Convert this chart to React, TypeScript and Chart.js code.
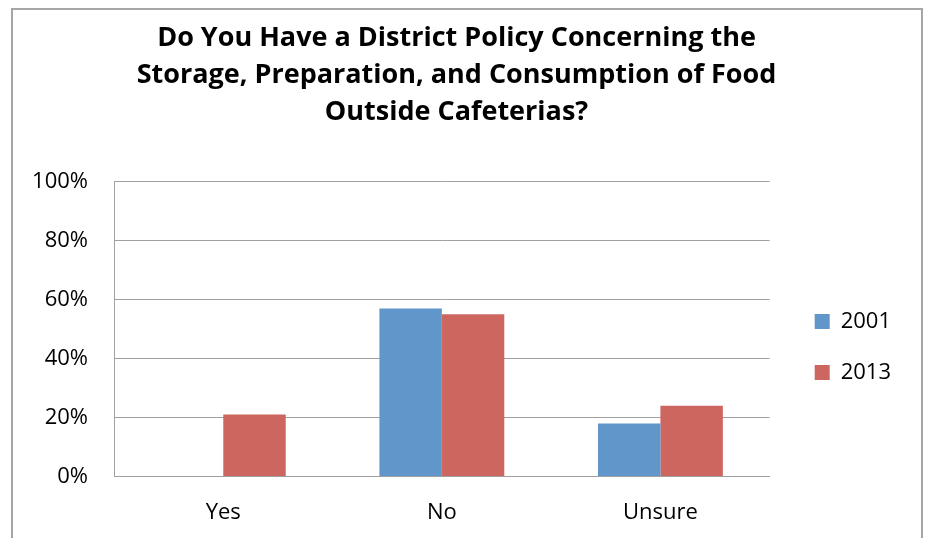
import React, { useEffect, useRef } from "react";
import { Chart, registerables } from "chart.js";

Chart.register(...registerables);

const categories = ["Yes", "No", "Unsure"];
const series2001 = [0, 57, 18];
const series2013 = [21, 55, 24];
const seriesLabels = ["2001", "2013"];
const titleLines = [
  "Do You Have a District Policy Concerning the",
  "Storage, Preparation, and Consumption of Food",
  "Outside Cafeterias?",
];
const yTickValues = [0, 20, 40, 60, 80, 100];

const FONT = "'Open Sans', Lato, sans-serif";

export default function App() {
  const canvasRef = useRef<HTMLCanvasElement | null>(null);

  useEffect(() => {
    const canvas = canvasRef.current;
    if (!canvas) return;
    const chart = new Chart(canvas, {
      type: "bar",
      data: {
        labels: categories,
        datasets: [
          {
            label: seriesLabels[0],
            data: series2001,
            backgroundColor: "#6096c9",
            borderWidth: 0,
          },
          {
            label: seriesLabels[1],
            data: series2013,
            backgroundColor: "#cd665f",
            borderWidth: 0,
          },
        ],
      },
      options: {
        responsive: false,
        animation: false,
        layout: { padding: { left: 12, right: 25, top: 0, bottom: -11 } },
        datasets: {
          bar: { categoryPercentage: 0.5714, barPercentage: 1 },
        },
        scales: {
          x: {
            grid: { display: false, drawTicks: false },
            border: { display: true, color: "#a0a0a0", width: 1 },
            ticks: {
              color: "#000",
              font: { family: FONT, size: 22 },
              padding: 23,
            },
          },
          y: {
            min: 0,
            max: 100,
            afterBuildTicks: (scale: any) => {
              scale.ticks = yTickValues.map((v) => ({ value: v }));
            },
            afterFit: (scale: any) => {
              scale.width = 102;
            },
            grid: { color: "#a0a0a0", lineWidth: 1, drawTicks: false },
            border: { display: true, color: "#a0a0a0", width: 1 },
            ticks: {
              color: "#000",
              font: { family: FONT, size: 22 },
              padding: 26,
              callback: (v: any) => v + "%",
            },
          },
          gap: {
            position: "right",
            display: true,
            grid: { display: false, drawTicks: false },
            border: { display: false },
            ticks: { display: false },
            afterFit: (scale: any) => {
              scale.width = 16;
            },
          },
        },
        plugins: {
          title: {
            display: true,
            text: titleLines,
            color: "#000",
            font: { family: FONT, size: 27, weight: "bold", lineHeight: 1.37 },
            padding: { top: 19.5, bottom: 51 },
          },
          legend: {
            position: "right",
            title: {
              display: true,
              text: "",
              font: { size: 1 },
              padding: { top: 144, bottom: 0 },
            },
            labels: {
              boxWidth: 15,
              boxHeight: 15,
              padding: 29,
              color: "#000",
              font: { family: FONT, size: 22 },
            },
          },
          tooltip: { enabled: false },
        },
      },
    } as any);
    return () => chart.destroy();
  }, []);

  return (
    <div
      style={{
        position: "fixed",
        left: 0,
        top: 0,
        width: 926,
        height: 538,
        background: "#fff",
        overflow: "hidden",
      }}
    >
      <canvas ref={canvasRef} width={926} height={538} style={{ display: "block" }} />
      <div
        style={{
          position: "absolute",
          left: 11,
          top: 8,
          width: 912,
          height: 600,
          boxSizing: "border-box",
          borderTop: "2px solid #a6a6a6",
          borderLeft: "2px solid #a6a6a6",
          borderRight: "2px solid #a6a6a6",
          pointerEvents: "none",
        }}
      />
    </div>
  );
}
